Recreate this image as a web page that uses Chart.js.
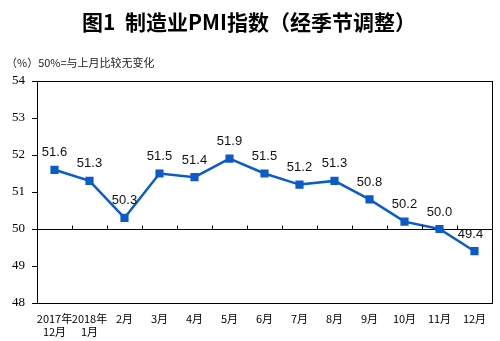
<!DOCTYPE html>
<html>
<head>
<meta charset="utf-8">
<script src="https://cdn.jsdelivr.net/npm/chart.js@4"></script>
<style>
  body { margin: 0; background: #fff; }
  canvas { display: block; }
</style>
</head>
<body>
<canvas id="pmiChart" width="500" height="341"></canvas>
<script>
const months = [['2017年', '12月'], ['2018年', '1月'], '2月', '3月', '4月', '5月', '6月', '7月', '8月', '9月', '10月', '11月', '12月'];
const pmi = [51.6, 51.3, 50.3, 51.5, 51.4, 51.9, 51.5, 51.2, 51.3, 50.8, 50.2, 50.0, 49.4];
const yTicks = [48, 49, 50, 51, 52, 53, 54];

const blue = '#0b5bc9';
const cjk = '"Noto Sans CJK SC", sans-serif';

// frame, the 50 line ticks, titles and value labels
const decor = {
    id: 'decor',
    afterDraw(chart) {
        const c = chart.ctx;
        const area = chart.chartArea;
        const x = chart.scales.x;
        const y = chart.scales.y;
        c.save();
        c.strokeStyle = '#000';
        c.lineWidth = 1;
        c.strokeRect(area.left + 0.5, area.top + 0.5, area.right - area.left, area.bottom - area.top);

        const y50 = Math.round(y.getPixelForValue(50)) + 0.5;
        const step = (area.right - area.left) / pmi.length;
        c.beginPath();
        for (let i = 1; i < pmi.length; i++) {
            const px = Math.round(area.left + i * step) + 0.5;
            c.moveTo(px, y50);
            c.lineTo(px, y50 - 4);
        }
        c.stroke();

        c.fillStyle = '#000';
        c.textAlign = 'center';
        c.textBaseline = 'middle';
        c.font = 'bold 21px ' + cjk;
        c.fillText('图1  制造业PMI指数（经季节调整）', 249, 22);

        c.textAlign = 'left';
        c.font = '11px ' + cjk;
        c.fillStyle = '#222';
        c.fillText('（%）50%=与上月比较无变化', 6, 63);

        c.textAlign = 'center';
        c.font = '13px "Liberation Sans", Arial, sans-serif';
        c.fillStyle = '#111';
        pmi.forEach((v, i) => {
            let px = x.getPixelForValue(i);
            const py = y.getPixelForValue(v);
            if (i === pmi.length - 1) px -= 4; // keep clear of the frame
            c.fillText(v.toFixed(1), px, py - 17);
        });
        c.restore();
    }
};

new Chart(document.getElementById('pmiChart'), {
    type: 'line',
    data: {
        labels: months,
        datasets: [{
            data: pmi,
            borderColor: blue,
            backgroundColor: blue,
            borderWidth: 2.5,
            pointStyle: 'rect',
            pointRadius: 4,
            pointHoverRadius: 4,
            tension: 0
        }]
    },
    options: {
        responsive: false,
        animation: false,
        layout: { padding: { left: 0, top: 81, right: 8, bottom: 0 } },
        plugins: {
            legend: { display: false },
            tooltip: { enabled: false }
        },
        scales: {
            x: {
                offset: true,
                grid: { display: false },
                border: { display: false },
                ticks: {
                    color: '#000',
                    font: { family: cjk, size: 11 },
                    maxRotation: 0,
                    autoSkip: false,
                    padding: 1
                },
                afterFit: s => { s.height = 38; }
            },
            y: {
                min: 48,
                max: 54,
                afterBuildTicks: s => { s.ticks = yTicks.map(v => ({ value: v })); },
                grid: {
                    color: ctx => (ctx.tick && ctx.tick.value === 50) ? '#000' : 'rgba(0,0,0,0)',
                    tickColor: '#000',
                    tickLength: 5,
                    drawTicks: true
                },
                border: { display: false },
                ticks: {
                    color: '#000',
                    font: { family: '"Liberation Serif", serif', size: 13 },
                    padding: 7
                },
                afterFit: s => { s.width = 37; }
            }
        }
    },
    plugins: [decor]
});
</script>
</body>
</html>
